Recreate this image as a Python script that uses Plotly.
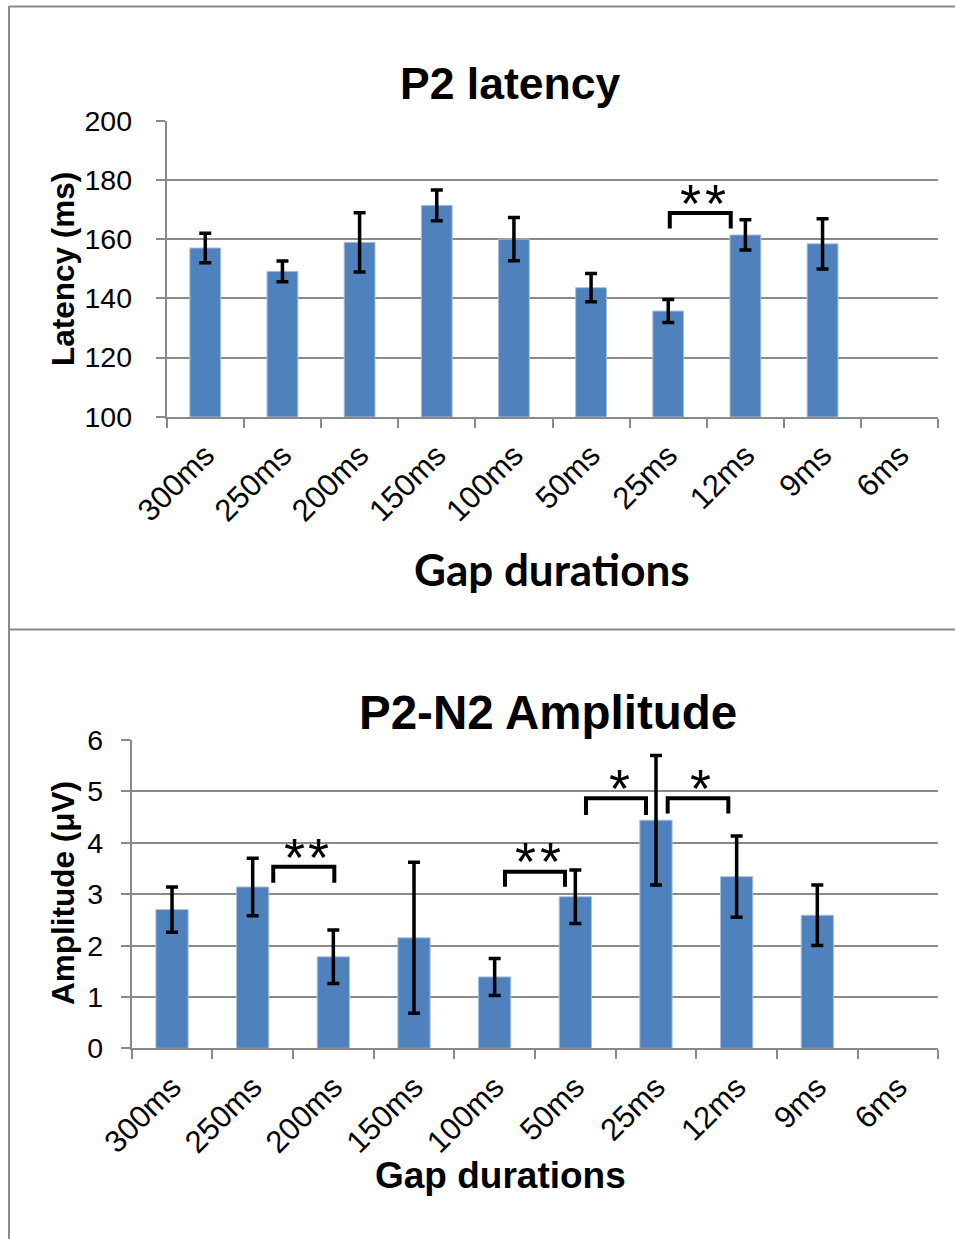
import plotly.graph_objects as go

# ---------------- data ----------------
categories = ["300ms", "250ms", "200ms", "150ms", "100ms", "50ms", "25ms", "12ms", "9ms", "6ms"]
latency = [157.0, 149.1, 158.9, 171.4, 160.0, 143.6, 135.7, 161.4, 158.4, None]
latency_err = [5.0, 3.5, 10.0, 5.2, 7.3, 4.8, 3.9, 5.1, 8.5, None]
amplitude = [2.70, 3.14, 1.78, 2.15, 1.39, 2.95, 4.44, 3.34, 2.59, None]
amplitude_err = [0.44, 0.56, 0.52, 1.47, 0.36, 0.52, 1.26, 0.79, 0.59, None]
latency_ticks = [100, 120, 140, 160, 180, 200]
amplitude_ticks = [0, 1, 2, 3, 4, 5, 6]

# significance brackets: (x_left_index, x_right_index, y_top, y_leg, label, label_x, label_y)
latency_sig = [(6.02, 6.81, 168.8, 163.6, "**", 6.43, 174.9)]
amplitude_sig = [
    (1.255, 2.012, 3.535, 3.22, "**", 1.649, 3.88),
    (4.128, 4.872, 3.437, 3.145, "**", 4.52, 3.80),
    (5.132, 5.876, 4.866, 4.54, "*", 5.523, 5.22),
    (6.145, 6.897, 4.866, 4.57, "*", 6.537, 5.22),
]

# ---------------- layout constants (pixels) ----------------
W, H = 955, 1239
BAR = "#4F81BD"
GRID = "#898989"
ARIAL = "Liberation Sans, Arial, sans-serif"


def px(x):
    return x / W


def py(y):
    return 1 - y / H


fig = go.Figure()

fig.add_trace(go.Bar(
    x=categories, y=latency, xaxis="x", yaxis="y",
    marker=dict(color=BAR, line=dict(color="#A9C0DE", width=1)),
    error_y=dict(type="data", array=latency_err, visible=True,
                 color="black", thickness=3.5, width=6),
    showlegend=False, hoverinfo="skip",
))
fig.add_trace(go.Bar(
    x=categories, y=amplitude, xaxis="x2", yaxis="y2",
    marker=dict(color=BAR, line=dict(color="#A9C0DE", width=1)),
    error_y=dict(type="data", array=amplitude_err, visible=True,
                 color="black", thickness=3.5, width=6),
    showlegend=False, hoverinfo="skip",
))

common_x = dict(
    type="category", showline=True, linecolor=GRID, linewidth=2,
    ticks="outside", tickson="boundaries", ticklen=9, tickcolor=GRID, tickwidth=2,
    tickangle=-45, tickfont=dict(family=ARIAL, size=31, color="black"),
    showgrid=False, zeroline=False, fixedrange=True, automargin=False,
)
common_y = dict(
    showline=True, linecolor=GRID, linewidth=2,
    ticks="outside", ticklen=9, tickcolor=GRID, tickwidth=2,
    tickfont=dict(family=ARIAL, size=28.5, color="black"),
    showgrid=True, gridcolor=GRID, gridwidth=2, zeroline=False, fixedrange=True,
    automargin=False,
)

fig.update_layout(
    width=W, height=H,
    margin=dict(l=0, r=0, t=0, b=0, pad=0, autoexpand=False),
    paper_bgcolor="white", plot_bgcolor="white",
    bargap=0.6,
    xaxis=dict(common_x, domain=[px(166.7), px(938.3)], anchor="y",
               range=[-0.5, 9.5], ticklabelstandoff=6),
    yaxis=dict(common_y, domain=[py(416.7), py(120.7)], anchor="x",
               range=[100, 200], tickvals=latency_ticks, ticklabelstandoff=18),
    xaxis2=dict(common_x, domain=[px(131.7), px(938.3)], anchor="y2",
                range=[-0.5, 9.5], ticklabelstandoff=6),
    yaxis2=dict(common_y, domain=[py(1048.3), py(740)], anchor="x2",
                range=[0, 6], tickvals=amplitude_ticks, ticklabelstandoff=12),
)

shapes = []
annotations = []

# frames
frame = dict(type="line", xref="paper", yref="paper", line=dict(color="#8A8A8A", width=2))
shapes.append(dict(frame, x0=px(9), x1=px(W + 5), y0=py(6.5), y1=py(6.5)))
shapes.append(dict(frame, x0=px(9), x1=px(9), y0=py(6), y1=py(H + 5)))
shapes.append(dict(frame, x0=px(9), x1=px(W + 5), y0=py(629.5), y1=py(629.5)))

STAR_STEP = 24.4


def add_sig(spec, xr, yr):
    for x0, x1, ytop, yleg, label, lx, ly in spec:
        shapes.append(dict(
            type="path", xref=xr, yref=yr,
            path=f"M {x0},{yleg} L {x0},{ytop} L {x1},{ytop} L {x1},{yleg}",
            line=dict(color="black", width=4),
        ))
        n = len(label)
        for i, ch in enumerate(label):
            annotations.append(dict(
                x=lx, y=ly, xref=xr, yref=yr, text=ch, showarrow=False,
                font=dict(family=ARIAL, size=54, color="black"),
                xanchor="center", yanchor="middle",
                xshift=(i - (n - 1) / 2) * STAR_STEP + 1.5, yshift=-8,
            ))


add_sig(latency_sig, "x", "y")
add_sig(amplitude_sig, "x2", "y2")


def add_text(text, x, y, size, family=ARIAL, angle=0):
    annotations.append(dict(
        x=px(x), y=py(y), xref="paper", yref="paper", text=f"<b>{text}</b>",
        showarrow=False, textangle=angle, xanchor="center", yanchor="middle",
        font=dict(family=family, size=size, color="black"),
    ))


add_text("P2 latency", 510, 83, 44.5)
add_text("Gap durations", 552, 569, 44, family="Lato, Liberation Sans, sans-serif")
add_text("Latency (ms)", 63, 269, 31.5, angle=-90)
add_text("P2-N2 Amplitude", 548, 712, 47.5)
add_text("Gap durations", 500, 1175, 37)
add_text("Amplitude (μV)", 63, 893, 31.5, angle=-90)

fig.update_layout(shapes=shapes, annotations=annotations)

fig.write_html("out.html", config={"displayModeBar": False},
               post_script="document.body.style.margin='0px';")
